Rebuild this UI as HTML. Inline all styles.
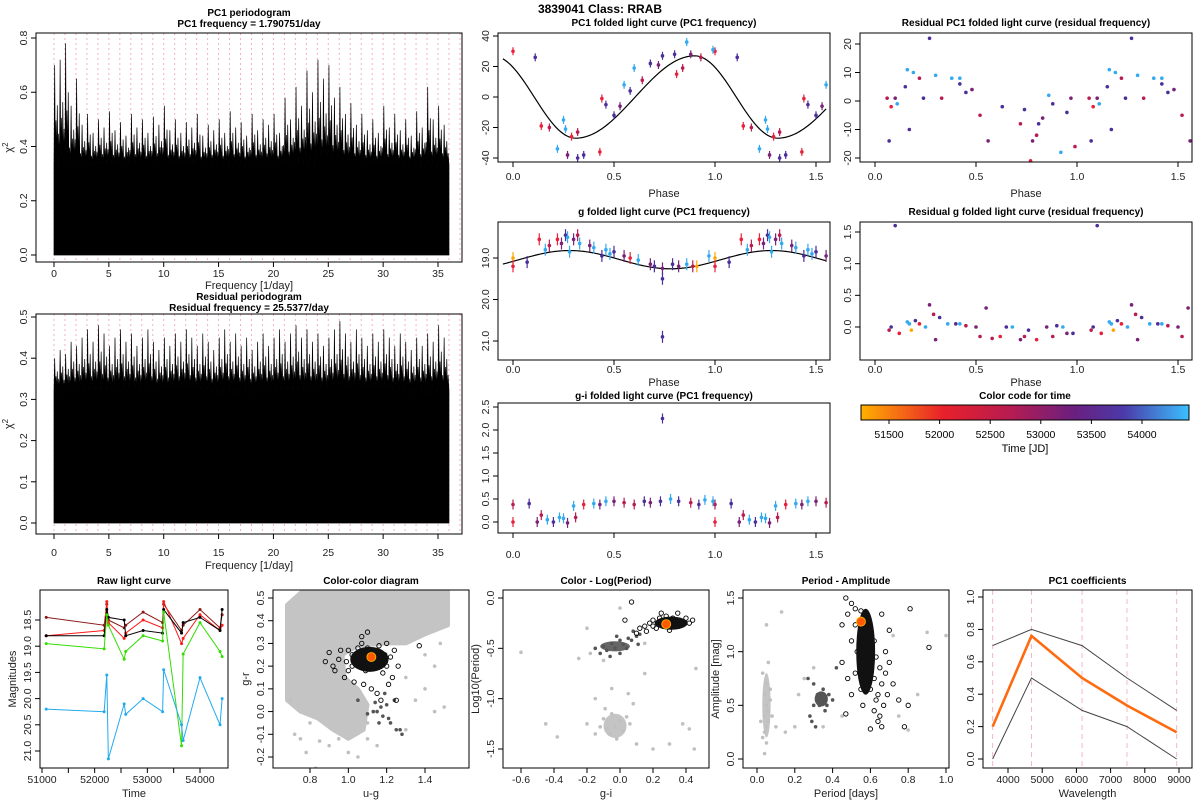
<!DOCTYPE html>
<html><head><meta charset="utf-8"><style>
html,body{margin:0;padding:0;background:#fff}
svg{display:block;font-family:"Liberation Sans",sans-serif}
</style></head><body>
<svg id="s" width="1200" height="800" viewBox="0 0 1200 800">
<defs><linearGradient id="tg" x1="0" x2="1" y1="0" y2="0">
<stop offset="0" stop-color="#ffb000"/><stop offset="0.25" stop-color="#e8202a"/><stop offset="0.45" stop-color="#b81c50"/><stop offset="0.65" stop-color="#6a1f80"/><stop offset="0.8" stop-color="#4b3aa8"/><stop offset="1" stop-color="#3ac0ff"/></linearGradient></defs>
<text x="600" y="13" text-anchor="middle" font-weight="bold" font-size="12">3839041     Class: RRAB</text>
</svg>
<script>
const ns='http://www.w3.org/2000/svg';const S=document.getElementById('s');
const pal=['#ffa500','#e8203a','#b81c50','#7a2277','#4b2e9a','#33aaf0'];
// ---- data ----
const freqStep=0.5;
const pc1Peak=[0.70,0.72,0.78,0.55,0.65,0.48,0.52,0.45,0.50,0.47,0.53,0.46,0.49,0.44,0.52,0.47,0.50,0.45,0.51,0.48,0.55,0.46,0.50,0.45,0.49,0.47,0.52,0.44,0.48,0.46,0.50,0.45,0.53,0.47,0.49,0.44,0.52,0.46,0.50,0.48,0.52,0.45,0.58,0.50,0.62,0.55,0.68,0.60,0.72,0.65,0.70,0.58,0.62,0.52,0.56,0.48,0.52,0.46,0.50,0.45,0.55,0.47,0.52,0.46,0.50,0.44,0.53,0.47,0.62,0.50,0.55,0.48];
const pc1Floor=0.33;
const resPeak=[0.40,0.42,0.41,0.44,0.43,0.45,0.47,0.44,0.48,0.46,0.43,0.45,0.47,0.44,0.46,0.43,0.45,0.47,0.44,0.42,0.45,0.43,0.46,0.44,0.47,0.45,0.43,0.46,0.44,0.42,0.45,0.47,0.44,0.46,0.43,0.45,0.42,0.44,0.46,0.43,0.45,0.47,0.44,0.46,0.48,0.45,0.47,0.44,0.46,0.43,0.45,0.47,0.49,0.46,0.44,0.47,0.45,0.43,0.46,0.44,0.47,0.45,0.43,0.46,0.44,0.42,0.45,0.43,0.46,0.44,0.48,0.45];
const resFloor=0.32;
const pc1Fold=[[0.00,30,1],[0.11,26,4],[0.14,-19,1],[0.18,-20,2],[0.22,-34,5],[0.25,-15,5],[0.26,-21,5],[0.27,-38,3],[0.29,-26,1],[0.32,-23,2],[0.32,-40,4],[0.35,-38,4],[0.43,-36,1],[0.44,-1,1],[0.46,-5,4],[0.50,-12,4],[0.53,-6,3],[0.55,8,5],[0.58,4,4],[0.60,19,5],[0.64,11,2],[0.68,22,4],[0.72,21,3],[0.74,27,4],[0.80,28,4],[0.81,15,1],[0.84,19,2],[0.86,36,5],[0.88,28,3],[0.93,26,2],[0.99,31,5]];
const resPc1=[[0.06,1,2],[0.07,-14,4],[0.08,-2,1],[0.10,1,3],[0.11,-1,5],[0.15,5,4],[0.16,11,5],[0.17,-10,4],[0.19,10,5],[0.22,8,2],[0.24,1,4],[0.27,22,4],[0.30,9,5],[0.33,1,2],[0.38,8,5],[0.42,6,4],[0.42,8,5],[0.45,3,4],[0.48,4,3],[0.52,-5,2],[0.56,-14,3],[0.63,-2,4],[0.72,-8,2],[0.74,-3,4],[0.77,-21,1],[0.78,-14,3],[0.80,-12,2],[0.81,-8,4],[0.83,-6,3],[0.86,2,5],[0.88,-1,4],[0.92,-18,5],[0.95,-4,4],[0.97,1,3],[0.99,-16,2]];
const gFold=[[0.00,19.0,0],[0.00,19.2,1],[0.07,19.1,4],[0.13,18.55,1],[0.16,18.8,5],[0.18,18.7,2],[0.22,18.55,1],[0.24,18.65,3],[0.26,18.45,4],[0.27,18.5,5],[0.28,18.85,5],[0.30,18.55,3],[0.32,18.45,2],[0.33,18.65,5],[0.38,18.7,3],[0.40,18.75,5],[0.44,18.95,4],[0.46,18.8,5],[0.48,18.9,5],[0.50,18.85,4],[0.55,18.95,3],[0.58,19.0,1],[0.62,19.05,5],[0.68,19.15,3],[0.70,19.2,4],[0.74,19.25,3],[0.74,19.5,4],[0.74,20.9,4],[0.79,19.15,4],[0.82,19.2,3],[0.86,19.15,5],[0.89,19.2,2],[0.91,19.2,0],[0.97,18.95,5]];
const giFold=[[0.0,0.0,1],[0.0,0.38,2],[0.08,0.4,4],[0.12,0.0,3],[0.14,0.15,2],[0.17,0.05,5],[0.2,0.0,4],[0.23,0.1,5],[0.25,0.08,5],[0.27,-0.02,3],[0.3,0.35,5],[0.31,0.1,2],[0.35,0.38,1],[0.40,0.4,5],[0.43,0.38,3],[0.46,0.45,5],[0.5,0.45,3],[0.55,0.42,2],[0.6,0.38,2],[0.65,0.45,4],[0.68,0.42,3],[0.73,0.45,4],[0.74,2.25,4],[0.78,0.5,5],[0.82,0.45,4],[0.88,0.42,2],[0.92,0.38,4],[0.95,0.48,5],[0.99,0.45,5]];
const resG=[[0.07,-0.05,2],[0.08,0.0,4],[0.1,1.6,4],[0.12,-0.1,1],[0.16,0.08,5],[0.17,0.05,5],[0.18,-0.05,0],[0.2,0.1,4],[0.22,0.05,1],[0.25,0.0,5],[0.27,0.35,3],[0.29,0.2,2],[0.3,-0.2,3],[0.32,0.15,4],[0.36,0.05,5],[0.4,0.05,4],[0.42,0.05,5],[0.45,0.02,2],[0.5,0.0,3],[0.52,-0.15,2],[0.55,0.3,3],[0.58,-0.18,2],[0.62,-0.15,1],[0.65,0.0,4],[0.68,0.0,5],[0.72,-0.2,3],[0.74,-0.15,2],[0.76,-0.05,4],[0.8,-0.2,1],[0.85,0.0,3],[0.88,-0.15,2],[0.9,0.02,4],[0.93,0.0,5],[0.95,-0.1,3],[0.98,-0.1,4]];
const rawT=[51080,52180,52230,52260,52560,52590,52920,53290,53310,53650,53680,54000,54380,54420];
const rawBands=[
 {c:'#8b1a1a',m:[18.45,18.6,18.2,18.5,18.65,18.6,18.35,18.55,18.2,18.7,18.6,18.3,18.65,18.4]},
 {c:'#ff1a1a',m:[18.8,18.7,18.15,18.55,18.85,18.75,18.5,18.65,18.15,18.95,18.85,18.4,18.7,18.6]},
 {c:'#000000',m:[18.8,18.8,18.3,18.45,18.5,18.8,18.7,18.75,18.3,18.75,18.55,18.45,18.7,18.3]},
 {c:'#33dd00',m:[18.95,19.05,18.4,18.6,19.25,19.1,18.8,18.9,18.35,20.9,19.15,18.55,19.1,19.2]},
 {c:'#22aaee',m:[20.2,20.25,19.55,21.15,20.1,20.3,20.0,20.25,19.45,20.5,20.8,19.6,20.5,20.0]}];
const ccCloud=[[0.68,0.05],[0.68,0.47],[0.76,0.53],[1.52,0.53],[1.52,0.38],[1.4,0.34],[1.3,0.3],[1.2,0.3],[1.05,0.29],[0.97,0.25],[0.98,0.15],[1.05,0.1],[1.1,0.03],[1.08,-0.08],[1.0,-0.12],[0.92,-0.08],[0.84,-0.03],[0.75,0.0]];
const ccGrey=[[0.7,0.05],[0.72,-0.1],[0.75,-0.12],[0.8,-0.05],[0.85,-0.13],[0.83,-0.25],[0.9,-0.15],[0.95,-0.12],[1.0,-0.18],[1.05,-0.2],[1.1,-0.05],[1.3,-0.08],[1.35,0.05],[1.45,0.0],[1.5,0.02],[1.4,0.1],[1.45,0.2],[1.3,0.15],[1.1,-0.12],[1.15,-0.15],[0.78,-0.18],[1.4,0.25],[1.48,0.3]];
const ccBlack=[[1.0,0.27],[1.02,0.25],[1.04,0.22],[1.05,0.28],[1.06,0.2],[1.07,0.3],[1.08,0.25],[1.09,0.18],[1.1,0.28],[1.11,0.22],[1.13,0.27],[1.14,0.2],[1.15,0.25],[1.16,0.29],[1.17,0.22],[1.18,0.17],[1.19,0.25],[1.2,0.2],[1.22,0.24],[1.24,0.27],[1.23,0.15],[0.95,0.23],[0.92,0.2],[0.88,0.22],[0.96,0.27],[1.0,0.18],[1.03,0.13],[1.08,0.12],[1.12,0.1],[1.15,0.08],[1.1,0.35],[1.07,0.33],[1.37,0.29],[1.21,0.12],[1.25,0.05],[1.17,0.05],[0.98,0.15],[0.9,0.26],[0.93,0.18],[1.26,0.2],[1.2,0.3],[1.02,0.2],[0.99,0.22]];
const ccDark=[[1.15,0.0],[1.18,-0.02],[1.2,0.03],[1.22,-0.05],[1.25,-0.08],[1.27,-0.08],[1.28,-0.1],[1.17,0.02],[1.13,0.0],[1.21,-0.03],[1.05,0.05],[1.1,-0.01],[1.24,0.05],[1.19,0.08],[1.14,0.04],[1.16,-0.05]];
const ccCores=[[1.11,0.23,0.1,0.055,'#111']];const ccStar=[1.12,0.24];
const lpBlack=[[0.1,-0.35],[0.12,-0.3],[0.15,-0.28],[0.18,-0.25],[0.2,-0.22],[0.22,-0.3],[0.24,-0.2],[0.26,-0.28],[0.28,-0.18],[0.3,-0.32],[0.32,-0.2],[0.34,-0.28],[0.36,-0.22],[0.38,-0.26],[0.4,-0.2],[0.42,-0.25],[0.35,-0.15],[0.25,-0.15],[0.2,-0.28],[0.03,-0.22],[0.07,-0.04],[0.16,-0.33],[0.44,-0.22]];
const lpDark=[[-0.15,-0.5],[-0.12,-0.55],[-0.1,-0.48],[-0.08,-0.52],[-0.05,-0.45],[-0.03,-0.5],[0.0,-0.42],[0.02,-0.46],[0.05,-0.4],[0.07,-0.42],[0.1,-0.38],[0.12,-0.36],[0.0,-0.55],[-0.06,-0.58],[-0.02,-0.38],[0.04,-0.5],[0.08,-0.33],[0.11,-0.46]];
const lpLight=[[-0.1,-1.2],[-0.08,-1.3],[-0.05,-1.15],[-0.03,-1.28],[0.0,-1.22],[0.02,-1.32],[-0.06,-1.35],[-0.12,-1.28],[0.04,-1.18],[-0.02,-1.4],[-0.09,-1.1],[0.06,-1.25],[-0.15,-1.35],[0.08,-1.05],[-0.2,-1.25],[0.1,-1.45],[-0.6,-0.54],[-0.45,-1.25],[-0.38,-1.38],[-0.25,-0.6],[-0.2,-0.3],[-0.15,-1.0],[0.0,-0.1],[0.38,-1.25],[0.42,-1.3],[0.45,-1.5],[0.46,-0.7],[0.3,-1.45],[0.2,-1.5],[-0.05,-0.9],[0.05,-0.95],[0.15,-0.75],[-0.18,-0.55],[-0.1,-0.62],[0.15,-0.45]];
const lpCores=[[0.31,-0.25,0.1,0.065,'#111'],[-0.03,-1.27,0.07,0.12,'#c4c4c4'],[-0.03,-0.48,0.09,0.05,'#666']];const lpStar=[0.28,-0.26];
const paBlack=[[0.47,1.5],[0.5,1.45],[0.52,1.4],[0.48,1.35],[0.55,1.38],[0.58,1.3],[0.52,1.25],[0.6,1.2],[0.55,1.15],[0.62,1.1],[0.57,1.05],[0.6,1.0],[0.63,0.95],[0.58,0.9],[0.65,0.85],[0.6,0.8],[0.62,0.75],[0.66,0.7],[0.6,0.65],[0.64,0.6],[0.63,0.55],[0.67,0.5],[0.62,0.45],[0.65,0.4],[0.64,0.35],[0.66,0.3],[0.68,0.8],[0.7,0.9],[0.72,0.7],[0.75,0.55],[0.78,0.3],[0.8,0.5],[0.81,1.4],[0.91,1.04],[0.45,0.9],[0.48,0.75],[0.5,0.6],[0.55,0.65],[0.47,0.42],[0.52,0.8],[0.7,1.2],[0.66,1.35],[0.5,1.1],[0.45,1.25],[0.53,1.0],[0.68,1.0],[0.69,0.6],[0.56,0.5],[0.6,0.28]];
const paDark=[[0.28,0.4],[0.3,0.5],[0.32,0.55],[0.34,0.6],[0.36,0.55],[0.33,0.5],[0.35,0.65],[0.38,0.6],[0.3,0.7],[0.27,0.75],[0.4,0.55],[0.31,0.3],[0.29,0.35],[0.37,0.5],[0.42,0.85],[0.32,0.6],[0.36,0.45],[0.34,0.58]];
const paLight=[[0.03,0.2],[0.05,0.3],[0.04,0.4],[0.06,0.35],[0.05,0.5],[0.04,0.6],[0.06,0.45],[0.05,0.7],[0.07,0.55],[0.03,0.8],[0.06,0.9],[0.04,0.25],[0.05,0.15],[0.07,0.65],[0.05,1.25],[0.08,0.4],[0.1,0.3],[0.13,1.37],[0.15,0.25],[0.2,0.3],[0.22,0.6],[0.25,0.75],[0.3,0.85],[0.35,0.3],[0.45,0.4],[0.72,1.15],[0.9,1.18],[1.0,1.15],[0.8,0.27],[0.85,0.6],[0.75,0.4],[0.04,0.05],[0.02,0.35]];
const paCores=[[0.05,0.5,0.022,0.3,'#c4c4c4'],[0.34,0.56,0.035,0.07,'#555'],[0.575,1.0,0.05,0.4,'#111']];const paStar=[0.55,1.28];
const wl=[3551,4686,6166,7480,8932];
const coefMean=[0.2,0.76,0.5,0.33,0.165];
const coefUp=[0.7,0.8,0.7,0.5,0.3];
const coefLo=[0,0.5,0.3,0.2,0];
const timeTicks=[51500,52000,52500,53000,53500,54000];

// ---- helpers ----
function mk(tag,a,p){const e=document.createElementNS(ns,tag);for(const k in a)e.setAttribute(k,a[k]);(p||S).appendChild(e);return e;}
function lin(c){return v=>c[1]+(v-c[0])*(c[3]-c[1])/(c[2]-c[0]);}
function fmt(v,d){return v.toFixed(d);}
function panel(o){
 const g=mk('g',{});
 
 
 const X=lin(o.xc),Y=lin(o.yc);const [l,t,r,b]=o.box;
 const clip='c'+o.name;const cp=mk('clipPath',{id:clip},g);mk('rect',{x:l,y:t,width:r-l,height:b-t},cp);
 const plot=mk('g',{'clip-path':'url(#'+clip+')'},g);
 
 
 const ax=mk('g',{fill:'#222','font-size':'10.5'},g);
 
 
 o.xt.forEach(v=>{const x=X(v);mk('line',{x1:x,x2:x,y1:b,y2:b+5,stroke:'#000'},ax);
  if(!o.xskip||!o.xskip(v)){const tx=mk('text',{x:x,y:o.tly,'text-anchor':'middle'},ax);tx.textContent=o.xf?o.xf(v):v;}});
 o.yt.forEach(v=>{const y=Y(v);mk('line',{x1:l-5,x2:l,y1:y,y2:y,stroke:'#000'},ax);
  const tx=mk('text',{x:l-9,y:y,'text-anchor':'middle',transform:`rotate(-90 ${l-9} ${y})`},ax);tx.textContent=o.yf?o.yf(v):v;});
 if(o.xlab){const tx=mk('text',{x:(l+r)/2,y:o.xly,'text-anchor':'middle','font-size':'11'},ax);tx.textContent=o.xlab;
  }
 if(o.ylab){const yy=(t+b)/2,xx=l-24;const tx=mk('text',{x:xx,y:yy,'text-anchor':'middle','font-size':'11',transform:`rotate(-90 ${xx} ${yy})`},ax);tx.innerHTML=o.ylab;
  }
 o.title.forEach((s,i)=>{const tx=mk('text',{x:(l+r)/2,y:o.ty+i*11,'text-anchor':'middle','font-weight':'bold','font-size':'10'},g);tx.textContent=s;
  });
 const fr=mk('rect',{x:l,y:t,width:r-l,height:b-t,fill:'none',stroke:'#000','stroke-width':1},g);
 
 return {X,Y,plot};
}
function range(a,b,s){const r=[];for(let v=a;v<=b+1e-9;v+=s)r.push(+v.toFixed(6));return r;}
function dot(p,x,y,r,fill,stroke,nm){const c=mk('circle',{cx:x,cy:y,r:r,fill:fill,stroke:stroke||'none','stroke-width':0.9},p);
 return c;}

// ---- periodograms ----
function pgram(name,box,yc,yt,peaks,floor,title,tly,xly,ty){
 const P=panel({name,box,xc:[0,54,35,438],yc,xt:range(0,35,5),yt,yf:v=>fmt(v,1),tly,xly,xlab:'Frequency [1/day]',ylab:'χ<tspan dy="-4" font-size="8">2</tspan>',title,ty});
 for(let f=0;f<=38;f++){const x=P.X(f);mk('line',{x1:x,x2:x,y1:box[1],y2:box[3],stroke:'#f2b0c4','stroke-dasharray':'2,3'},P.plot);}
 let pts=[[P.X(0),P.Y(0)]];
 peaks.forEach((v,i)=>{const f=i*freqStep;const nxt=peaks[i+1]!==undefined?peaks[i+1]:v;
  const m1=floor+(v-floor)*0.45,m2=floor+(nxt-floor)*0.3,m3=floor+(v-floor)*0.6;
  pts.push([P.X(f),P.Y(floor)],[P.X(f+0.06),P.Y(v)],[P.X(f+0.12),P.Y(floor+0.01)],[P.X(f+0.18),P.Y(m1)],[P.X(f+0.24),P.Y(floor)],[P.X(f+0.3),P.Y(m3)],[P.X(f+0.36),P.Y(floor-0.01)],[P.X(f+0.42),P.Y(m2)]);});
 pts.push([P.X(36),P.Y(floor)],[P.X(36),P.Y(0)]);
 const pg=mk('polygon',{points:pts.map(p=>p.join(',')).join(' '),fill:'#000',stroke:'#000','stroke-width':0.7},P.plot);
 
}
pgram('pc1-periodogram',[36,33,462,262],[0,255,0.8,38],range(0,0.8,0.2),pc1Peak,pc1Floor,['PC1 periodogram','PC1 frequency = 1.790751/day'],277,289,16);
pgram('residual-periodogram',[36,314,462,534],[0,523,0.5,317],range(0,0.5,0.1),resPeak,resFloor,['Residual periodogram','Residual frequency = 25.5377/day'],556,569,300);

// ---- folded curves ----
function folded(o,data,err,curve){
 const P=panel(Object.assign({xc:[0,o.x0,1.5,o.x0+303],xt:[0,0.5,1,1.5],xf:v=>fmt(v,1)},o));
 if(curve){let d='';for(let i=0;i<=160;i++){const p=-0.05+i*0.01;d+=(i?'L':'M')+P.X(p)+','+P.Y(curve(p));}
  const pa=mk('path',{d,fill:'none',stroke:'#000','stroke-width':1.2},P.plot);}
 data.forEach(d=>{[0,1].forEach(k=>{const ph=d[0]+k;if(ph>1.56)return;const x=P.X(ph),y=P.Y(d[1]);
  if(err){const ln=mk('line',{x1:x,x2:x,y1:y-err,y2:y+err,stroke:pal[d[2]],'stroke-width':1.2},P.plot);}
  dot(P.plot,x,y,1.8,pal[d[2]],null,'data-point');});});
}
function pcCurve(p){let q=((p%1)+1)%1;const mx=0.9,mn=0.31;if(q>=mn&&q<=mx)return -27*Math.cos(Math.PI*(q-mn)/(mx-mn));let dq=q<mn?q+1-mx:q-mx;return 27*Math.cos(Math.PI*dq/(1-mx+mn));}
folded({name:'pc1-folded-light-curve',box:[498,33,830,162],x0:513,yc:[-40,158,40,36],yt:range(-40,40,20),tly:180,xly:197,xlab:'Phase',title:['PC1 folded light curve (PC1 frequency)'],ty:26},pc1Fold,4,pcCurve);
folded({name:'g-folded-light-curve',box:[498,222,830,360],x0:513,yc:[19,258,21,341],yt:[19,20,21],yf:v=>fmt(v,1),tly:373,xly:386,xlab:'Phase',title:['g folded light curve (PC1 frequency)'],ty:215},gFold,6,p=>19.04-0.22*Math.cos(2*Math.PI*(p-0.28)));
folded({name:'g-i-folded-light-curve',box:[498,403,830,533],x0:513,yc:[0,522,2.5,407],yt:range(0,2.5,0.5),yf:v=>fmt(v,1),tly:558,title:['g-i folded light curve (PC1 frequency)'],ty:399},giFold,5,null);
folded({name:'residual-pc1-folded',box:[860,33,1192,162],x0:875,yc:[-20,158,20,44],yt:range(-20,20,10),tly:180,xly:197,xlab:'Phase',title:['Residual PC1 folded light curve (residual frequency)'],ty:26},resPc1,0,null);
folded({name:'residual-g-folded',box:[860,222,1192,360],x0:875,yc:[0,327,1.5,232],yt:[0,0.5,1,1.5],yf:v=>fmt(v,1),tly:373,xly:386,xlab:'Phase',title:['Residual g folded light curve (residual frequency)'],ty:215},resG,0,null);

// ---- color bar ----
(function(){const X=lin([51500,889,54000,1142]);const g=mk('g',{'font-size':'10.5'});
 
 const t=mk('text',{x:1025,y:399,'text-anchor':'middle','font-weight':'bold','font-size':'10'},g);t.textContent='Color code for time';
 const r=mk('rect',{x:861,y:405,width:328,height:15,fill:'url(#tg)',stroke:'#000'},g);
 
 timeTicks.forEach(v=>{const x=X(v);mk('line',{x1:x,x2:x,y1:420,y2:424,stroke:'#000'},g);const tx=mk('text',{x,y:438,'text-anchor':'middle'},g);tx.textContent=v;});
 const l=mk('text',{x:1025,y:452,'text-anchor':'middle','font-size':'11'},g);l.textContent='Time [JD]';})();

// ---- raw light curve ----
(function(){const P=panel({name:'raw-light-curve',box:[40,590,228,768],xc:[51000,42,54000,200],yc:[18.5,620,21,751],xt:range(51000,54000,500),xskip:v=>v%1000!==0,yt:range(18.5,21,0.5),yf:v=>fmt(v,1),tly:783,xly:797,xlab:'Time',ylab:'Magnitudes',title:['Raw light curve'],ty:584});
 rawBands.forEach((b,bi)=>{const pts=rawT.map((t,i)=>P.X(t)+','+P.Y(b.m[i])).join(' ');
  const pl=mk('polyline',{points:pts,fill:'none',stroke:b.c,'stroke-width':1},P.plot);
  rawT.forEach((t,i)=>dot(P.plot,P.X(t),P.Y(b.m[i]),1.5,b.c,null,'raw-point'));});})();

// ---- scatter panels ----
function scatter(o,layers,cores,star,poly){const P=panel(Object.assign({tly:783,xly:797,ty:584},o));
 if(poly){const pg=mk('polygon',{points:poly.map(p=>P.X(p[0])+','+P.Y(p[1])).join(' '),fill:'#c4c4c4','stroke':'#c4c4c4','stroke-width':4,'stroke-linejoin':'round'},P.plot);}
 const drawCore=c=>{const e=mk('ellipse',{cx:P.X(c[0]),cy:P.Y(c[1]),rx:Math.abs(P.X(c[0]+c[2])-P.X(c[0])),ry:Math.abs(P.Y(c[1]+c[3])-P.Y(c[1])),fill:c[4]},P.plot);};
 cores.filter(c=>c[4]!=='#111').forEach(drawCore);
 layers.forEach(L=>L.d.forEach(p=>dot(P.plot,P.X(p[0]),P.Y(p[1]),L.r,L.f,L.s,L.n)));
 cores.filter(c=>c[4]==='#111').forEach(drawCore);
 dot(P.plot,P.X(star[0]),P.Y(star[1]),4.5,'#ff5a00','#ffb000','this-star');}
scatter({name:'color-color-diagram',box:[273,590,469,768],xc:[0.8,310,1.4,425],yc:[-0.2,757,0.5,598],xt:[0.8,1.0,1.2,1.4],xf:v=>fmt(v,1),yt:range(-0.2,0.5,0.1),yf:v=>fmt(v,1),xlab:'u-g',ylab:'g-r',title:['Color-color diagram']},
 [{d:ccGrey,r:1.8,f:'#c0c0c0',n:'other-star'},{d:ccDark,r:1.8,f:'#555',n:'rrc-star'},{d:ccBlack,r:2.2,f:'none',s:'#000',n:'rrab-star'}],ccCores,ccStar,ccCloud);
scatter({name:'color-log-period',box:[503,590,709,768],xc:[-0.6,521,0.4,686],yc:[-1.5,749,0,598],xt:range(-0.6,0.4,0.2),xf:v=>fmt(v,1),yt:[-1.5,-1,-0.5,0],yf:v=>fmt(v,1),xlab:'g-i',ylab:'Log10(Period)',title:['Color - Log(Period)']},
 [{d:lpLight,r:1.8,f:'#c0c0c0',n:'other-star'},{d:lpDark,r:1.8,f:'#555',n:'rrc-star'},{d:lpBlack,r:2.2,f:'none',s:'#000',n:'rrab-star'}],lpCores,lpStar,null);
scatter({name:'period-amplitude',box:[743,590,949,768],xc:[0,757,1,946],yc:[0,759,1.5,598],xt:range(0,1,0.2),xf:v=>fmt(v,1),yt:[0,0.5,1,1.5],yf:v=>fmt(v,1),xlab:'Period [days]',ylab:'Amplitude [mag]',title:['Period - Amplitude']},
 [{d:paLight,r:1.8,f:'#c0c0c0',n:'other-star'},{d:paDark,r:1.8,f:'#555',n:'rrc-star'},{d:paBlack,r:2.2,f:'none',s:'#000',n:'rrab-star'}],paCores,paStar,null);

// ---- PC1 coefficients ----
(function(){const P=panel({name:'pc1-coefficients',box:[983,590,1192,768],xc:[4000,1008,9000,1179],yc:[0,759,1,597],xt:range(4000,9000,1000),yt:range(0,1,0.2),yf:v=>fmt(v,1),tly:783,xly:797,xlab:'Wavelength',title:['PC1 coefficients'],ty:584});
 wl.forEach(w=>{const x=P.X(w);const l=mk('line',{x1:x,x2:x,y1:590,y2:768,stroke:'#f4b6c8','stroke-dasharray':'5,4'},P.plot);});
 [[coefUp,'#444',1,'upper-bound-line'],[coefLo,'#444',1,'lower-bound-line'],[coefMean,'#ff6a10',2.6,'pc1-coefficient-line']].forEach(s=>{
  const pl=mk('polyline',{points:wl.map((w,i)=>P.X(w)+','+P.Y(s[0][i])).join(' '),fill:'none',stroke:s[1],'stroke-width':s[2]},P.plot);
  });})();
</script>
</body></html>
